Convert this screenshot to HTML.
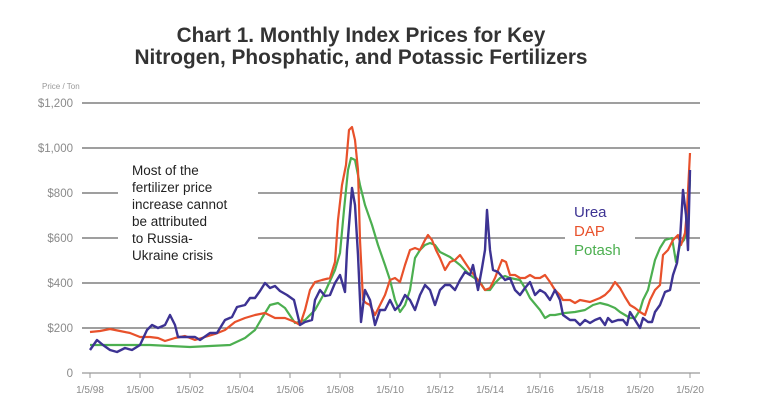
<!DOCTYPE html>
<html><head><meta charset="utf-8"><style>
body{margin:0;background:#fff;}
svg{display:block;font-family:"Liberation Sans",Arial,sans-serif;}
</style></head><body>
<svg width="776" height="404" viewBox="0 0 776 404" xmlns="http://www.w3.org/2000/svg">
<rect width="776" height="404" fill="#fff"/>
<text x="361" y="42" text-anchor="middle" font-size="20.8" font-weight="bold" fill="#333">Chart 1. Monthly Index Prices for Key</text>
<text x="361" y="64" text-anchor="middle" font-size="20.8" font-weight="bold" fill="#333">Nitrogen, Phosphatic, and Potassic Fertilizers</text>
<text x="42" y="89" font-size="8" fill="#999">Price / Ton</text>
<g font-size="11.5" fill="#8a8a8a" text-anchor="end">
<text x="73" y="107">$1,200</text><text x="73" y="152">$1,000</text><text x="73" y="197">$800</text>
<text x="73" y="242">$600</text><text x="73" y="287">$400</text><text x="73" y="332">$200</text><text x="73" y="377">0</text>
</g>
<g stroke="#666" stroke-width="1.3">
<line x1="82" y1="103" x2="700" y2="103"/><line x1="82" y1="148" x2="700" y2="148"/>
<line x1="82" y1="193" x2="118" y2="193"/><line x1="258" y1="193" x2="700" y2="193"/>
<line x1="82" y1="238" x2="118" y2="238"/><line x1="258" y1="238" x2="565" y2="238"/><line x1="635" y1="238" x2="700" y2="238"/>
<line x1="82" y1="283" x2="700" y2="283"/><line x1="82" y1="328" x2="700" y2="328"/>
<line x1="82" y1="373" x2="700" y2="373" stroke="#999"/>
</g>
<g stroke="#999" stroke-width="1" id="ticks"></g>
<g font-size="10" fill="#8a8a8a" text-anchor="middle" id="xl"></g>
<g font-size="13.5" fill="#222">
<text x="132" y="175">Most of the</text><text x="132" y="192">fertilizer price</text><text x="132" y="209">increase cannot</text>
<text x="132" y="226">be attributed</text><text x="132" y="243">to Russia-</text><text x="132" y="260">Ukraine crisis</text>
</g>
<g font-size="15">
<text x="574" y="217" fill="#3d3393">Urea</text>
<text x="574" y="236" fill="#e8512b">DAP</text>
<text x="574" y="255" fill="#4caf50">Potash</text>
</g>
<polyline fill="none" stroke="#4caf50" stroke-width="2.2" stroke-linejoin="round" points="90,345 110,345 130,345 150,345 170,346 190,347 210,346 230,345 245,338 255,330 262,318 270,305 278,303 285,308 295,323 305,320 315,310 325,292 335,270 340,253 344,210 348,170 351,158 355,160 360,185 365,205 372,225 378,245 385,265 390,280 395,300 400,312 405,305 410,290 415,258 420,250 425,245 430,243 435,245 440,252 450,257 460,265 470,275 480,282 485,290 490,290 495,283 500,278 505,276 510,278 520,280 525,288 530,298 540,310 545,318 550,315 555,315 565,313 575,312 585,310 593,305 600,303 608,305 615,308 620,312 625,315 630,318 635,318 640,310 643,300 648,290 655,260 660,248 665,240 672,238 676,262 680,245 684,240 687,230 690,180"/>
<polyline fill="none" stroke="#e8512b" stroke-width="2.2" stroke-linejoin="round" points="90,332 100,331 110,329 120,331 130,333 140,337 150,337 158,338 165,341 175,338 185,336 195,340 205,337 215,334 225,330 235,322 245,318 255,315 265,313 275,318 285,318 295,322 300,325 305,310 310,290 315,282 322,280 330,278 335,262 338,220 342,185 346,165 349,130 352,127 355,140 358,170 360,240 363,300 366,303 370,305 375,315 380,305 385,295 390,280 395,278 400,282 405,265 410,250 415,248 420,250 425,240 428,235 432,240 436,250 440,258 445,270 450,262 455,260 460,255 470,270 478,280 485,290 490,288 495,278 500,265 502,260 506,262 510,275 515,275 520,278 525,278 530,275 535,278 540,278 545,275 550,282 555,290 560,295 563,300 570,300 575,303 580,300 590,302 600,298 605,295 610,290 615,282 620,288 625,297 630,305 635,308 640,312 645,315 650,300 655,290 660,285 663,255 668,250 673,240 678,235 681,245 685,233 687,210 690,153"/>
<polyline fill="none" stroke="#3d3393" stroke-width="2.4" stroke-linejoin="round" points="90,350 97,340 103,345 110,350 117,352 125,348 132,350 140,345 147,330 152,325 158,328 165,325 170,315 175,325 178,337 185,337 195,337 200,340 210,333 217,333 225,320 232,317 237,307 245,305 250,298 255,298 260,291 265,283 270,288 275,286 280,291 287,295 294,300 300,325 305,322 312,320 315,300 320,290 325,296 330,295 335,283 340,275 345,292 347,250 352,188 355,205 358,255 361,322 365,290 370,300 375,325 380,310 385,310 390,300 395,310 400,305 405,295 410,300 415,310 420,295 425,285 430,290 435,305 440,290 445,285 450,285 455,290 460,280 465,272 470,275 473,265 478,290 482,268 485,250 487,210 490,250 493,270 498,272 505,280 510,278 515,290 520,295 525,288 530,282 535,295 540,290 545,293 550,300 555,290 560,300 563,315 570,320 575,320 580,325 585,320 590,323 595,320 600,318 605,325 608,318 612,322 618,320 623,320 627,325 630,312 635,320 640,328 643,318 648,322 652,322 655,312 660,305 665,292 670,290 673,275 677,263 680,240 683,190 686,215 688,250 690,170"/>
<script>
var t=document.getElementById('ticks'),l=document.getElementById('xl'),ns='http://www.w3.org/2000/svg';
var labs=['1/5/98','1/5/00','1/5/02','1/5/04','1/5/06','1/5/08','1/5/10','1/5/12','1/5/14','1/5/16','1/5/18','1/5/20','1/5/20'];
for(var i=0;i<13;i++){var x=90+i*50;var ln=document.createElementNS(ns,'line');ln.setAttribute('x1',x);ln.setAttribute('x2',x);ln.setAttribute('y1',373);ln.setAttribute('y2',378);t.appendChild(ln);
var tx=document.createElementNS(ns,'text');tx.setAttribute('x',x);tx.setAttribute('y',393);tx.textContent=labs[i];l.appendChild(tx);}
</script>
</svg>
</body></html>
